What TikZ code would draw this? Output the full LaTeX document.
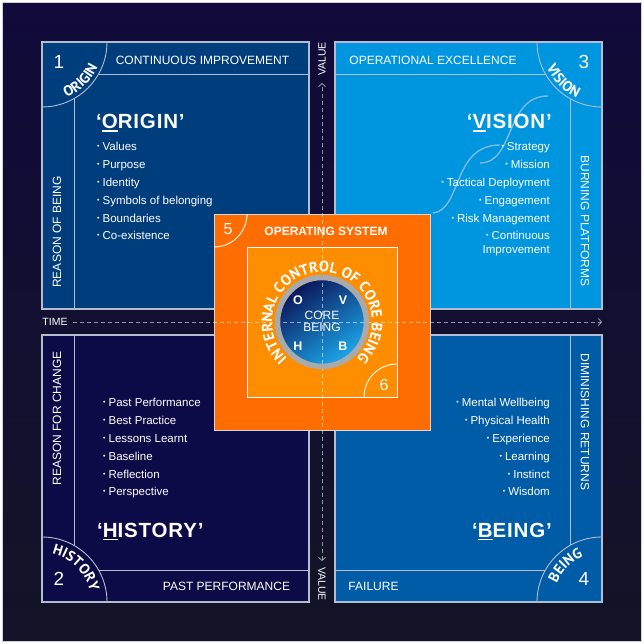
\documentclass[tikz,border=0pt]{standalone}
\usepackage{fontspec}
\setmainfont{Liberation Sans}
\newfontfamily\headfont[LetterSpace=4]{Liberation Sans}
\newfontfamily\curvefont{PT Sans}
\usetikzlibrary{decorations.text,arrows.meta}
\definecolor{bgtop}{HTML}{110A3A}
\definecolor{bgbot}{HTML}{131427}
\definecolor{q1c}{HTML}{003D7C}
\definecolor{q2c}{HTML}{0D0B47}
\definecolor{q3c}{HTML}{0095DF}
\definecolor{q4c}{HTML}{005CA6}
\definecolor{linec}{HTML}{B4BDD0}
\definecolor{or1}{HTML}{FF6D00}
\definecolor{or2}{HTML}{FF8D00}
\definecolor{ringc}{HTML}{A9AAAC}
\definecolor{cdark}{HTML}{0A1457}
\definecolor{cmid}{HTML}{0B3F8E}
\definecolor{clight}{HTML}{1CA8EC}
\definecolor{decoc}{HTML}{A9C9DE}
\newcommand\bul{\raisebox{2pt}{\fontsize{7}{7}\selectfont •}\hspace{3pt}}
\newcommand\ulet[1]{\setbox0\hbox{#1}\rlap{\rule[-3pt]{\wd0}{1.6pt}}\box0}
\newcommand\arcf{\curvefont\bfseries\fontsize{14.5}{14.5}\selectfont}
\newcommand\ringf{\curvefont\bfseries\fontsize{15}{15}\selectfont}
\begin{document}
\begin{tikzpicture}[x=1pt,y=1pt,
  lbl/.style={text=white,font=\fontsize{12}{12}\selectfont,inner sep=0pt},
  blt/.style={text=white,font=\fontsize{11.5}{12}\selectfont,inner sep=0pt},
  num/.style={text=white,font=\fontsize{19}{19}\selectfont,inner sep=0pt},
  smallnum/.style={text=white,font=\fontsize{16}{16}\selectfont,inner sep=0pt},
  head/.style={text=white,font=\headfont\bfseries\fontsize{20.5}{20.5}\selectfont,inner sep=0pt},
  axlbl/.style={text=white,font=\fontsize{10.5}{10.5}\selectfont,inner sep=0pt},
  ovhb/.style={text=white,font=\bfseries\fontsize{12.5}{12.5}\selectfont,inner sep=0pt},
  frame/.style={draw=linec,line width=1.1pt},
  inner/.style={draw=linec,line width=0.9pt},
  axis/.style={draw=white,draw opacity=0.55,dash pattern=on 4pt off 3pt,line width=0.9pt},
  deco/.style={draw=decoc,line width=1.4pt,draw opacity=0.75},
  arctext/.style={decorate,decoration={text along path,text align=center,text color=white,text={|\arcf|#1}}},
]
\useasboundingbox (0,0) rectangle (644,644);
\fill[white] (0,0) rectangle (644,644);
\shade[top color=bgtop,bottom color=bgbot] (2.5,2.5) rectangle (641.5,641.5);
\draw[draw=linec!70,line width=0.8pt] (2.5,2.5) rectangle (641.5,641.5);

% quadrants
\draw[frame,fill=q1c] (42,335) rectangle (309,602);
\draw[frame,fill=q3c] (335,335) rectangle (602,602);
\draw[frame,fill=q2c] (42,42) rectangle (309,309);
\draw[frame,fill=q4c] (335,42) rectangle (602,309);

% strips and corner arcs
\draw[inner] (98.6,570) -- (309,570);
\draw[inner] (74,545.4) -- (74,335);
\draw[inner] (107,602) arc[start angle=0,end angle=-90,radius=65];
\draw[inner] (335,570) -- (545.4,570);
\draw[inner] (570,545.4) -- (570,335);
\draw[inner] (537,602) arc[start angle=180,end angle=270,radius=65];
\draw[inner] (74,309) -- (74,98.6);
\draw[inner] (98.6,74) -- (309,74);
\draw[inner] (42,107) arc[start angle=90,end angle=0,radius=65];
\draw[inner] (570,309) -- (570,98.6);
\draw[inner] (335,74) -- (545.4,74);
\draw[inner] (537,42) arc[start angle=180,end angle=90,radius=65];

% decorative curves
\draw[deco] (433,431) .. controls (462,434) and (452,499) .. (500,499);
\draw[deco] (480,481) .. controls (515,481) and (505,548) .. (548,548);

% corner numbers and arc words
\node[num] (n1) at (59,582) {1};
\node[num] (n3) at (584,582) {3};
\node[num] (n2) at (59,65) {2};
\node[num] (n4) at (584,65) {4};
\coordinate (c1) at (42,602);
\coordinate (c3) at (602,602);
\coordinate (c2) at (42,42);
\coordinate (c4) at (602,42);
\path[arctext=ORIGIN] (c1) ++(-90:61) arc[start angle=-90,end angle=0,radius=61];
\path[arctext=VISION] (c3) ++(180:61) arc[start angle=180,end angle=270,radius=61];
\path[arctext=HISTORY] (c2) ++(90:49) arc[start angle=90,end angle=0,radius=49];
\path[arctext=BEING] (c4) ++(180:49) arc[start angle=180,end angle=90,radius=49];

% strip labels
\node[lbl] (ci) at (202.5,584) {CONTINUOUS IMPROVEMENT};
\node[lbl] (oe) at (433,584) {OPERATIONAL EXCELLENCE};
\node[lbl] (pp) at (226.5,57.3) {PAST PERFORMANCE};
\node[lbl] (fl) at (373.5,57.3) {FAILURE};
\node[lbl,rotate=90] (rb) at (57,412) {REASON OF BEING};
\node[lbl,rotate=-90] (bp) at (585,423) {BURNING PLATFORMS};
\node[lbl,rotate=90] (rc) at (57,225.5) {REASON FOR CHANGE};
\node[lbl,rotate=-90] (dr) at (585,222) {DIMINISHING RETURNS};

% headings
\node[head,anchor=base west] (h1) at (96,515) {‘\ulet{O}RIGIN’};
\node[head,anchor=base east] (h3) at (552,515) {‘\ulet{V}ISION’};
\node[head,anchor=base west] (h2) at (97,106.5) {‘\ulet{H}ISTORY’};
\node[head,anchor=base east] (h4) at (552,106.5) {‘\ulet{B}EING’};

% bullet lists
\foreach \t [count=\i] in {Values,Purpose,Identity,Symbols of belonging,Boundaries,Co-existence}
  \node[blt,anchor=base west] (oa\i) at (97,{493-17.8*(\i-1)}) {\bul\t};
\foreach \t [count=\i] in {Strategy,Mission,Tactical Deployment,Engagement,Risk Management,Continuous}
  \node[blt,anchor=base east] (va\i) at (550,{493-17.8*(\i-1)}) {\bul\t};
\node[blt,anchor=base east] (va7) at (550,390.5) {Improvement};
\foreach \t [count=\i] in {Past Performance,Best Practice,Lessons Learnt,Baseline,Reflection,Perspective}
  \node[blt,anchor=base west] (ha\i) at (103,{237-17.8*(\i-1)}) {\bul\t};
\foreach \t [count=\i] in {Mental Wellbeing,Physical Health,Experience,Learning,Instinct,Wisdom}
  \node[blt,anchor=base east] (ba\i) at (550,{237-17.8*(\i-1)}) {\bul\t};

% operating system square
\draw[fill=or1,draw=linec!60!white,line width=0.9pt] (214,214) rectangle (430,430);
\draw[fill=or2,draw=white,line width=0.9pt] (247,247) rectangle (397,397);
\draw[draw=white,line width=0.9pt] (247,430) arc[start angle=0,end angle=-90,radius=33];
\draw[draw=white,line width=0.9pt] (364,247) arc[start angle=180,end angle=90,radius=33];
\node[smallnum] (n5) at (228,415) {5};
\node[smallnum] (n6) at (384,259) {6};
\node[text=white,font=\bfseries\fontsize{12}{12}\selectfont,inner sep=0pt] (os) at (326,413) {OPERATING SYSTEM};

% core circle
\coordinate (cc) at (322,322);
\shade[left color=cdark,middle color=cmid,right color=clight,shading angle=35] (cc) circle[radius=44];

% axes
\coordinate (vt) at (322,561);
\coordinate (vb) at (322,83);
\coordinate (hl) at (73,322);
\coordinate (hr) at (602,322);
\draw[axis,{Straight Barb[length=3pt,width=7pt]}-{Straight Barb[length=3pt,width=7pt]}] (vb) -- (vt);
\draw[axis,-{Straight Barb[length=3pt,width=7pt]}] (hl) -- (hr);
\node[axlbl,rotate=90] (vl1) at (322,585) {VALUE};
\node[axlbl,rotate=-90] (vl2) at (322,60) {VALUE};
\node[axlbl] (tm) at (55,322) {TIME};

\draw[draw=ringc,line width=5.5pt] (cc) circle[radius=44.5];
\path[decorate,decoration={text along path,text align=center,text color=white,text={|\ringf|INTERNAL CONTROL OF CORE BEING}}] (cc) ++(270:50) arc[start angle=270,end angle=-90,radius=50];
\node[ovhb] (lo) at (298,344) {O};
\node[ovhb] (lv) at (343,344) {V};
\node[ovhb] (lh) at (298,298) {H};
\node[ovhb] (lb) at (343,298) {B};
\node[text=white,font=\fontsize{12}{12}\selectfont,inner sep=0pt] (core) at (322,329) {CORE};
\node[text=white,font=\fontsize{12}{12}\selectfont,inner sep=0pt] (being) at (322,317) {BEING};
\end{tikzpicture}
\end{document}
